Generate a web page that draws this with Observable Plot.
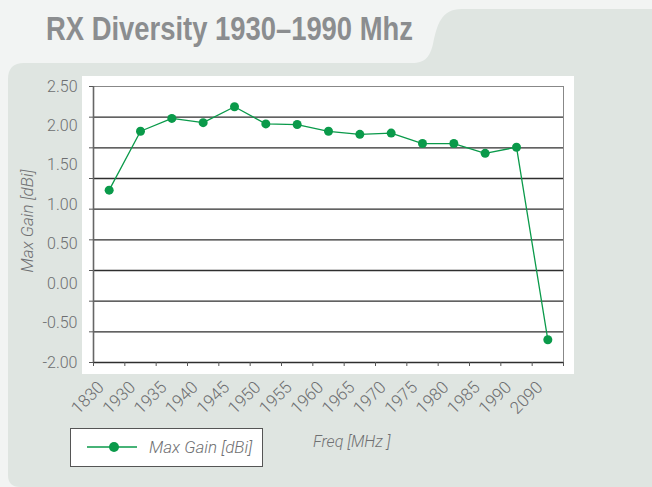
<!DOCTYPE html>
<html><head><meta charset="utf-8">
<script src="https://cdn.jsdelivr.net/npm/d3@7"></script>
<script src="https://cdn.jsdelivr.net/npm/@observablehq/plot@0.6"></script>
<style>
body{margin:0;background:#f2f4f3;width:652px;height:487px;overflow:hidden;position:relative;font-family:Roboto,sans-serif}
#bg{position:absolute;left:0;top:0}
#title{position:absolute;left:46px;top:12px;font-weight:bold;font-size:33px;font-family:"Liberation Sans",sans-serif;color:#8b8d8f;white-space:nowrap;line-height:1;transform:scaleX(0.83);transform-origin:0 0}
#white{position:absolute;left:82px;top:76px;width:492px;height:298px;background:#fff}
#chart{position:absolute;left:0;top:60px}
#legend{position:absolute;left:70px;top:428px;width:191px;height:37px;background:#fff;border:1.5px solid #555;box-sizing:content-box}
#legend svg{position:absolute;left:16px;top:8px}
#legend span{position:absolute;left:78px;top:8px;font-style:italic;font-size:17px;font-weight:300;color:#6f7072;white-space:nowrap}
#xlab{position:absolute;left:313px;top:432px;font-style:italic;font-size:16px;font-weight:300;color:#6f7072;white-space:nowrap}
#ylab{position:absolute;left:27px;top:221px;transform:translate(-50%,-50%) rotate(-90deg);font-style:italic;font-size:17px;font-weight:300;color:#6f7072;white-space:nowrap}
</style></head>
<body>
<svg id="bg" width="652" height="487"><path d="M8,475 L8,79 Q8,63 24,63 L412,63 C426,63 430,56 433,44 C437,25 441,9 462,9 L652,9 L652,487 L20,487 Q8,487 8,475 Z" fill="#dfe5e1"/></svg>
<div id="title">RX Diversity 1930–1990 Mhz</div>
<div id="white"></div>
<div id="chart"></div>
<div id="ylab">Max Gain [dBi]</div>
<div id="legend"><svg width="52" height="20"><line x1="0" x2="50" y1="10" y2="10" stroke="#0a9a4a" stroke-width="1.6"/><circle cx="27" cy="10" r="5" fill="#0a9a4a"/></svg><span>Max Gain [dBi]</span></div>
<div id="xlab">Freq [MHz ]</div>
<script>
const categories = ["1830","1930","1935","1940","1945","1950","1955","1960","1965","1970","1975","1980","1985","1990","2090"];
const maxGain = [0.81,1.77,1.98,1.91,2.17,1.89,1.88,1.77,1.72,1.74,1.57,1.57,1.41,1.51,-1.63];
const yTickLabels = ["2.50","2.00","1.50","1.00","0.50","0.00","-0.50","-2.00"];
const yGrid = [-2,-1.5,-1,-0.5,0,0.5,1,1.5,2,2.5];
const yMin = -2, yMax = 2.5;
const green = "#0a9a4a";

const data = categories.map((c, i) => ({i, freq: c, gain: maxGain[i]}));
const labelPos = yTickLabels.map((_, i) => yMax - i * (yMax - yMin) / (yTickLabels.length - 1));
const labelMap = new Map(labelPos.map((p, i) => [p, yTickLabels[i]]));
const xBounds = d3.range(-0.5, categories.length, 1);
const xCenters = d3.range(categories.length);

const chart = Plot.plot({
  width: 652, height: 355,
  marginLeft: 93, marginRight: 89, marginTop: 26, marginBottom: 53,
  style: {background: "transparent", fontFamily: "Roboto, sans-serif", overflow: "visible"},
  x: {domain: [-0.5, categories.length - 0.5]},
  y: {domain: [yMin, yMax]},
  marks: [
    Plot.frame({stroke: "#888", strokeWidth: 1}),
    Plot.ruleY(yGrid.slice(0, -1), {stroke: "#2e2e2e", strokeWidth: 1.3}),
    Plot.ruleX([-0.5], {stroke: "#666", strokeWidth: 1.6}),
    Plot.axisY({ticks: yGrid, tickSize: 4, tickFormat: () => "", stroke: "#555", label: null}),
    Plot.axisY({ticks: labelPos, tickSize: 0, tickPadding: 16, tickFormat: d => labelMap.get(d), fontSize: 16, fill: "#6d6e70", fontWeight: 300, label: null}),
    Plot.axisX({ticks: xBounds, tickSize: 4, tickFormat: () => "", stroke: "#555", label: null}),
    Plot.axisX({ticks: xCenters, tickSize: 0, tickPadding: 10, tickFormat: i => categories[i], tickRotate: -45, fontSize: 17, fill: "#6d6e70", fontWeight: 300, label: null, dx: -8, dy: 12}),
    Plot.line(data, {x: "i", y: "gain", stroke: green, strokeWidth: 1.3}),
    Plot.dot(data, {x: "i", y: "gain", r: 4.5, fill: green})
  ]
});
document.getElementById("chart").appendChild(chart);
</script>
</body></html>
